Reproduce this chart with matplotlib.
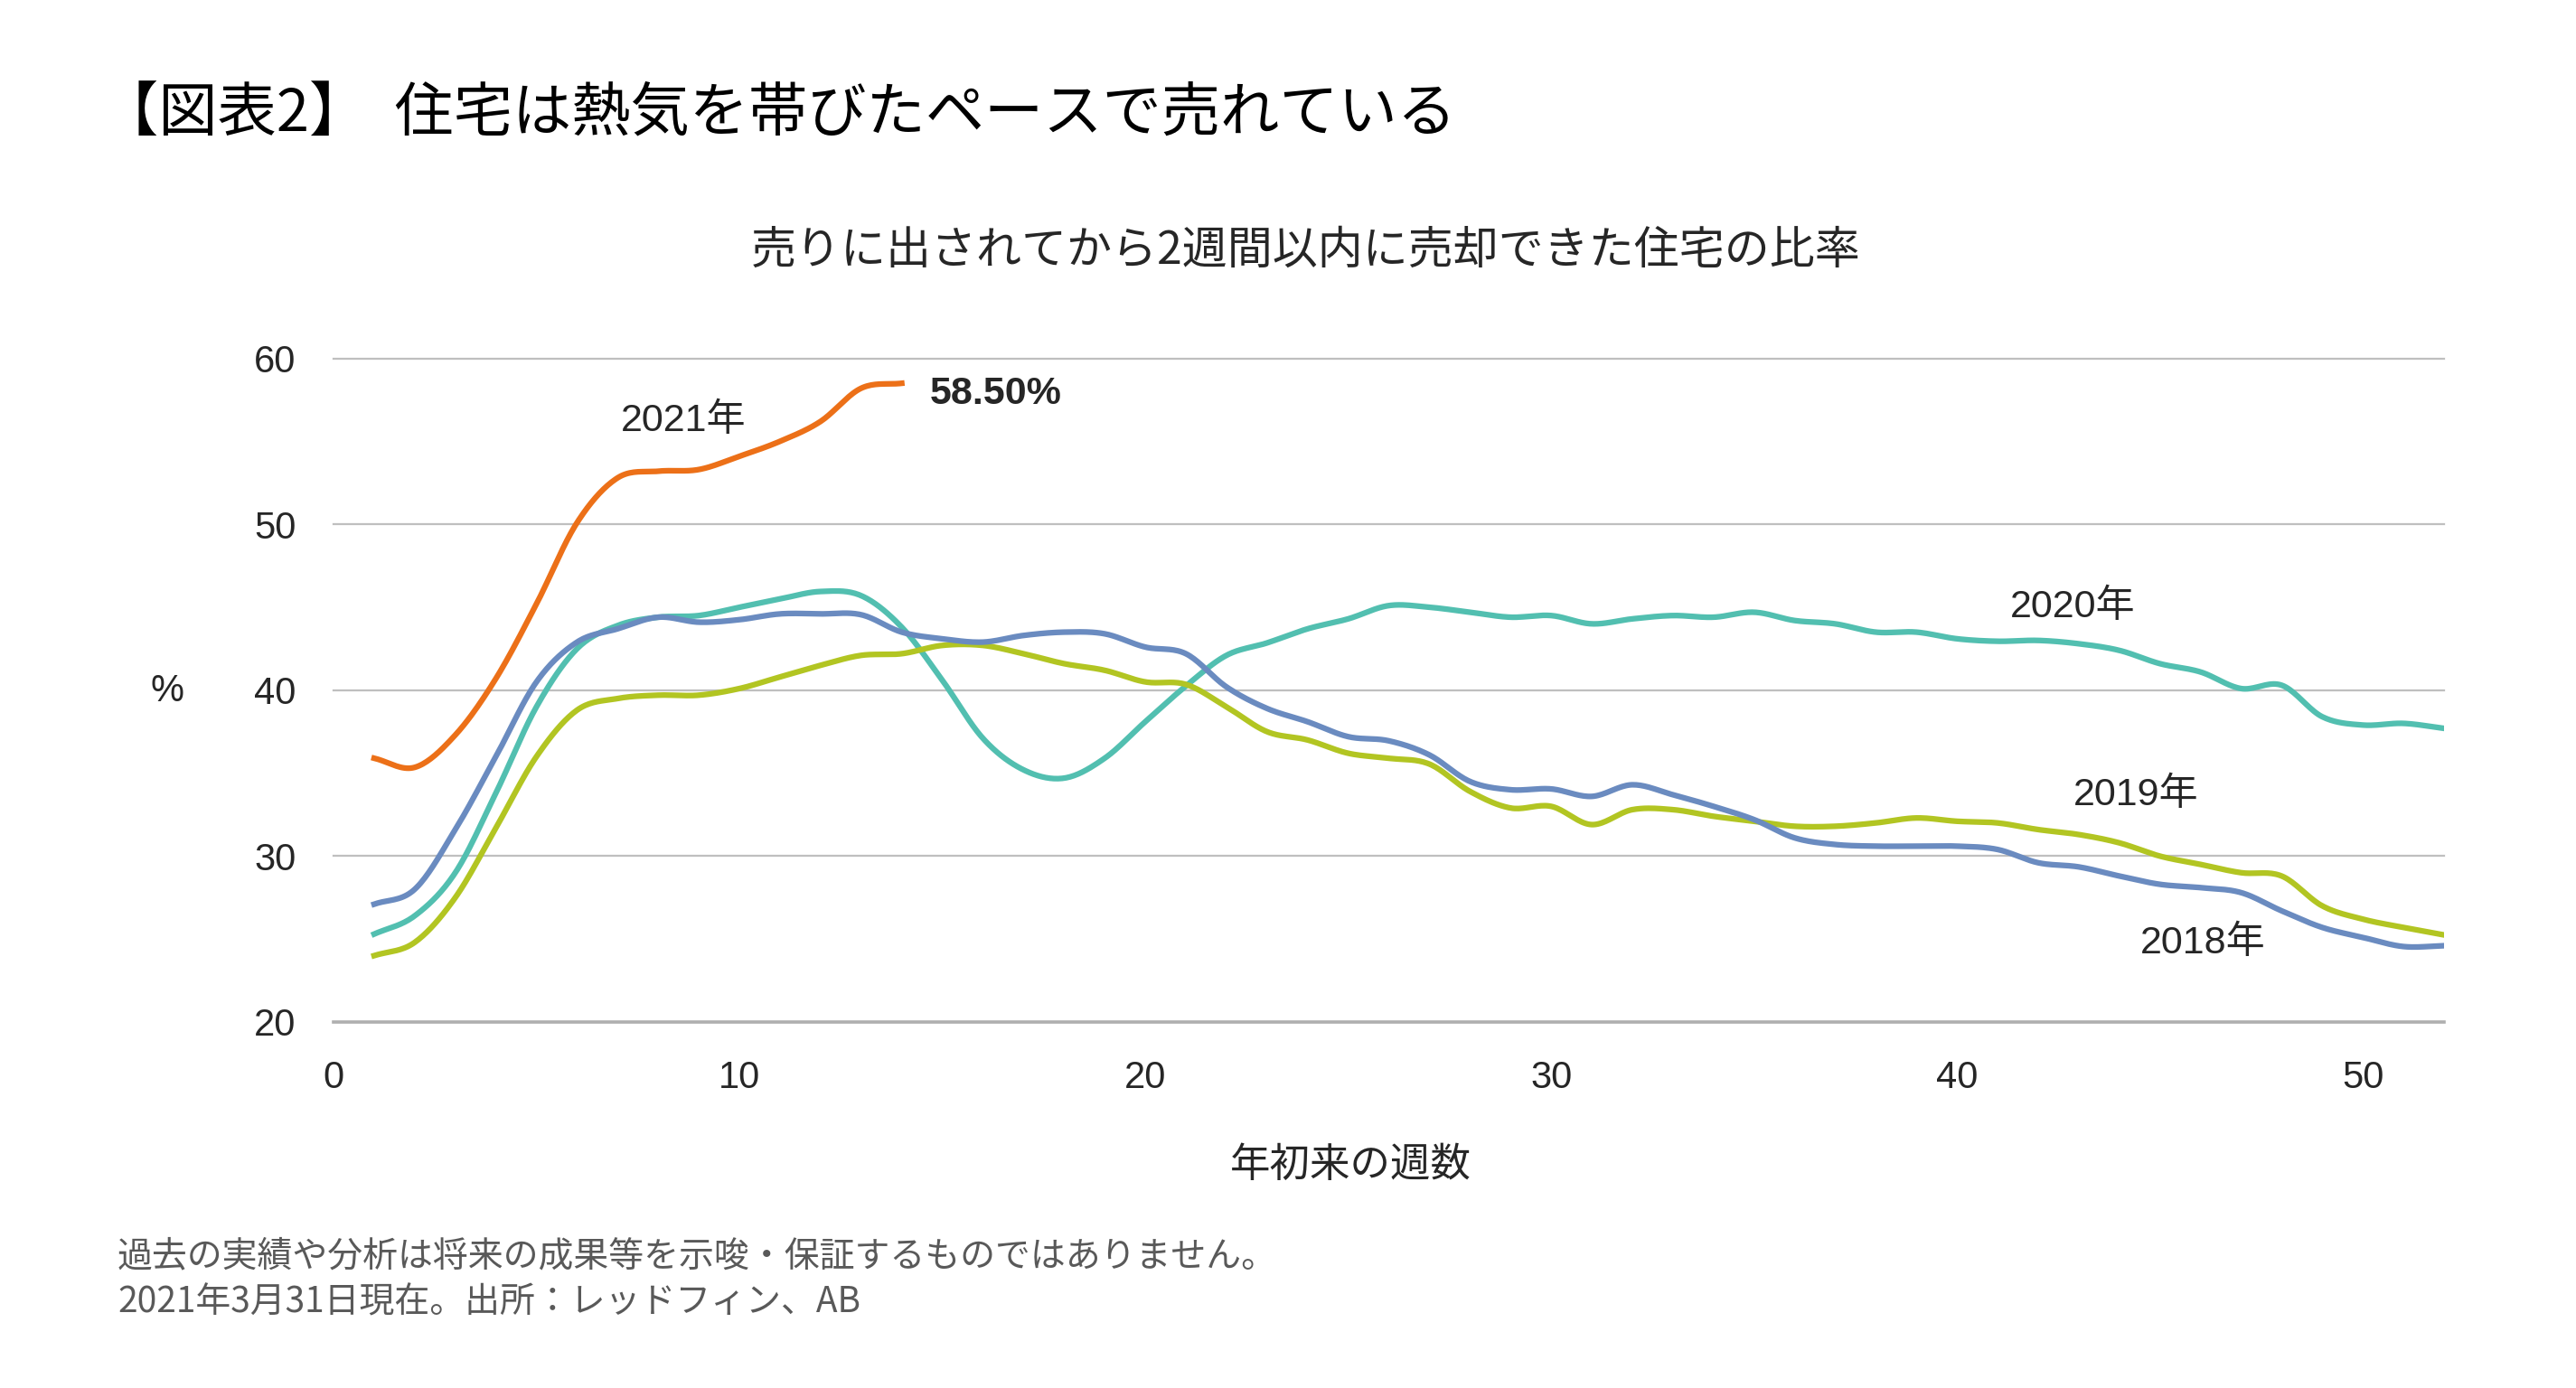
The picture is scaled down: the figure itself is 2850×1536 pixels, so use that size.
import numpy as np
import matplotlib
matplotlib.use('Agg')
import matplotlib.pyplot as plt

plt.rcParams['font.family'] = ['Liberation Sans', 'Noto Sans CJK JP']
CJK = ['Noto Sans CJK JP', 'Liberation Sans']

# weeks since start of year
weeks = list(range(1, 53))
weeks_2021 = list(range(1, 15))

# share of homes sold within two weeks of listing (%)
y2018 = [27.1, 28.0, 31.6, 36.0, 40.5, 42.9, 43.7, 44.4, 44.1, 44.25,
         44.6, 44.6, 44.55, 43.5, 43.1, 42.9, 43.3, 43.5, 43.4, 42.6,
         42.2, 40.2, 38.9, 38.1, 37.2, 36.95, 36.1, 34.5, 34.0, 34.05,
         33.6, 34.3, 33.7, 33.0, 32.2, 31.1, 30.7, 30.6, 30.6, 30.6,
         30.4, 29.6, 29.35, 28.8, 28.3, 28.1, 27.8, 26.7, 25.7, 25.1,
         24.55, 24.6]
y2019 = [24.0, 24.8, 27.5, 31.7, 36.0, 38.8, 39.5, 39.7, 39.7, 40.1,
         40.8, 41.5, 42.1, 42.2, 42.7, 42.7, 42.2, 41.6, 41.2, 40.5,
         40.35, 39.0, 37.5, 37.0, 36.2, 35.9, 35.55, 33.9, 32.9, 33.0,
         31.9, 32.8, 32.8, 32.4, 32.1, 31.8, 31.8, 32.0, 32.3, 32.1,
         32.0, 31.6, 31.3, 30.8, 30.0, 29.5, 29.0, 28.8, 27.0, 26.2,
         25.7, 25.25]
y2020 = [25.3, 26.4, 29.0, 33.8, 39.0, 42.5, 43.9, 44.4, 44.5, 45.0,
         45.5, 45.95, 45.7, 43.8, 40.6, 37.1, 35.2, 34.7, 35.9, 38.1,
         40.25, 42.1, 42.85, 43.7, 44.3, 45.1, 45.0, 44.7, 44.4, 44.5,
         44.0, 44.3, 44.5, 44.4, 44.7, 44.2, 44.0, 43.5, 43.5, 43.1,
         42.95, 43.0, 42.8, 42.4, 41.6, 41.1, 40.1, 40.3, 38.4, 37.9,
         38.0, 37.7]
y2021 = [35.9, 35.35, 37.3, 40.7, 45.2, 50.1, 52.8, 53.2, 53.3, 54.1,
         55.0, 56.2, 58.2, 58.5]

series_labels = ['2018年', '2019年', '2020年', '2021年']
colors = {'2018年': '#6A8BC0', '2019年': '#B2C522', '2020年': '#52BFB0', '2021年': '#EC7018'}


def smooth(x, y, n=20):
    # catmull-rom curve through the points, like excel's smoothed lines
    x = np.asarray(x, float)
    y = np.asarray(y, float)
    px = np.concatenate([[2 * x[0] - x[1]], x, [2 * x[-1] - x[-2]]])
    py = np.concatenate([[2 * y[0] - y[1]], y, [2 * y[-1] - y[-2]]])
    t = np.linspace(0, 1, n, endpoint=False)
    xs, ys = [], []
    for i in range(len(x) - 1):
        for p, out in ((px, xs), (py, ys)):
            p0, p1, p2, p3 = p[i], p[i + 1], p[i + 2], p[i + 3]
            out.append(0.5 * (2 * p1 + (-p0 + p2) * t
                              + (2 * p0 - 5 * p1 + 4 * p2 - p3) * t ** 2
                              + (-p0 + 3 * p1 - 3 * p2 + p3) * t ** 3))
    xs.append([x[-1]])
    ys.append([y[-1]])
    return np.concatenate(xs), np.concatenate(ys)


fig = plt.figure(figsize=(28.5, 15.36), dpi=100)
ax = fig.add_axes([369 / 2850, 1 - 1131 / 1536, (2704 - 369) / 2850, (1131 - 396.6) / 1536])

lw = 4.5
ax.plot(*smooth(weeks, y2020), color=colors['2020年'], lw=lw, zorder=3)
ax.plot(*smooth(weeks, y2019), color=colors['2019年'], lw=lw, zorder=4)
ax.plot(*smooth(weeks, y2018), color=colors['2018年'], lw=lw, zorder=5)
ax.plot(*smooth(weeks_2021, y2021), color=colors['2021年'], lw=lw, zorder=6)

ax.set_xlim(0, 52)
ax.set_ylim(20, 60)
ax.set_xticks([0, 10, 20, 30, 40, 50])
ax.set_yticks([20, 30, 40, 50, 60])
ax.tick_params(axis='both', length=0, labelsize=30, labelcolor='#262626')
ax.tick_params(axis='x', pad=30)
ax.tick_params(axis='y', pad=30)
ax.grid(axis='y', color='#BFBFBF', lw=1.6)
ax.set_axisbelow(True)
for gl in ax.get_ygridlines():
    gl.set_clip_on(False)
for s in ['top', 'right', 'left']:
    ax.spines[s].set_visible(False)
ax.spines['bottom'].set_color('#AFAFAF')
ax.spines['bottom'].set_linewidth(2.6)

# series labels
ax.text(8.62, 56.2, '2021年', fontsize=31, color='#262626', ha='center', va='center')
ax.text(14.7, 57.85, '58.50%', fontsize=31, color='#262626', ha='left', va='center', fontweight='bold')
ax.text(42.85, 45.0, '2020年', fontsize=31, color='#262626', ha='center', va='center')
ax.text(44.4, 33.67, '2019年', fontsize=31, color='#262626', ha='center', va='center')
ax.text(46.06, 24.74, '2018年', fontsize=31, color='#262626', ha='center', va='center')

# titles and notes
fig.text(110 / 2850, 1 - 127 / 1536, '【図表2】  住宅は熱気を帯びたペースで売れている',
         family=CJK, fontsize=47, color='black', ha='left', va='center')
fig.text(1445 / 2850, 1 - 278 / 1536, '売りに出されてから2週間以内に売却できた住宅の比率',
         family=CJK, fontsize=36, color='#262626', ha='center', va='center')
fig.text(1494 / 2850, 1 - 1289 / 1536, '年初来の週数',
         family=CJK, fontsize=32, color='#262626', ha='center', va='center')
fig.text(185 / 2850, 1 - 765 / 1536, '%', fontsize=30, color='#262626', ha='center', va='center')
fig.text(130 / 2850, 1 - 1390 / 1536, '過去の実績や分析は将来の成果等を示唆・保証するものではありません。',
         family=CJK, fontsize=28, color='#595959', ha='left', va='center')
fig.text(130 / 2850, 1 - 1441 / 1536, '2021年3月31日現在。出所：レッドフィン、AB',
         family=CJK, fontsize=28, color='#595959', ha='left', va='center')

fig.savefig('out.png', dpi=100, facecolor='white')
